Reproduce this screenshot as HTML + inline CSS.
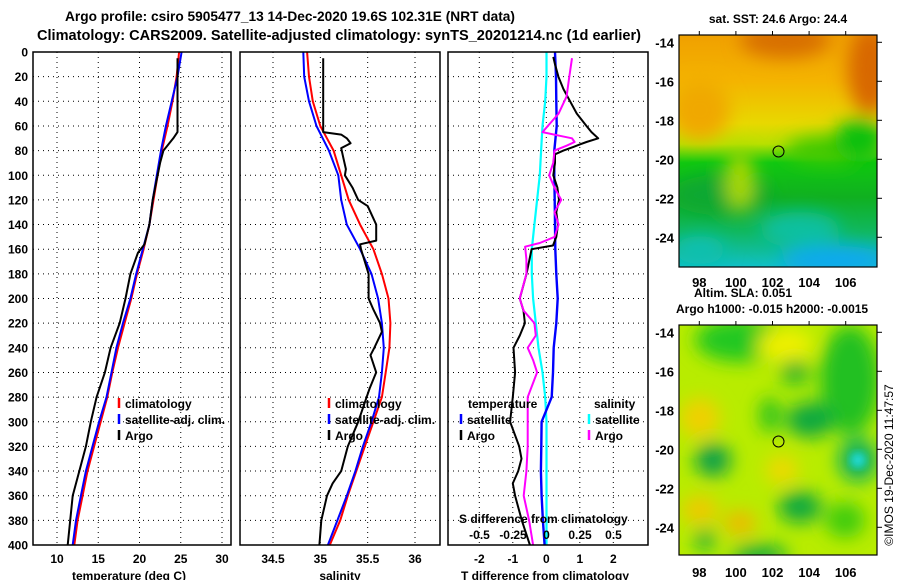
<!DOCTYPE html>
<html><head><meta charset="utf-8">
<style>
html,body{margin:0;padding:0;background:#fff;}
body{width:900px;height:580px;overflow:hidden;font-family:"Liberation Sans",sans-serif;}
svg text{font-family:"Liberation Sans",sans-serif;font-weight:bold;fill:#000;}
</style></head>
<body>
<svg id="fig" width="900" height="580" viewBox="0 0 900 580" xmlns="http://www.w3.org/2000/svg">
<defs>
<filter id="blur1" x="-20%" y="-20%" width="140%" height="140%"><feGaussianBlur stdDeviation="9"/></filter>
<filter id="blur2" x="-20%" y="-20%" width="140%" height="140%"><feGaussianBlur stdDeviation="4"/></filter>
<clipPath id="clipTop"><rect x="679" y="35" width="198" height="232"/></clipPath>
<clipPath id="clipBot"><rect x="679" y="325" width="198" height="230"/></clipPath>
<linearGradient id="sstGrad" x1="0" y1="0" x2="0" y2="1">
<stop offset="0" stop-color="#f0a000"/><stop offset="0.2" stop-color="#f4b400"/>
<stop offset="0.38" stop-color="#e8d800"/><stop offset="0.47" stop-color="#b8e000"/>
<stop offset="0.55" stop-color="#10c810"/><stop offset="0.7" stop-color="#10b020"/>
<stop offset="0.85" stop-color="#10b860"/><stop offset="1" stop-color="#10c0c8"/>
</linearGradient>
</defs>
<g id="titles">
<text x="65" y="21" font-size="14" textLength="450" lengthAdjust="spacingAndGlyphs">Argo profile: csiro 5905477_13 14-Dec-2020 19.6S 102.31E (NRT data)</text>
<text x="37" y="40" font-size="14.5" textLength="604" lengthAdjust="spacingAndGlyphs">Climatology: CARS2009. Satellite-adjusted climatology: synTS_20201214.nc (1d earlier)</text>
</g>
<g id="panels"></g>
<g id="maps">
<text x="778" y="23" font-size="12" text-anchor="middle">sat. SST: 24.6 Argo: 24.4</text>
<g clip-path="url(#clipTop)">
<rect x="679" y="35" width="198" height="232" fill="url(#sstGrad)"/>
<g filter="url(#blur1)">
<ellipse cx="785" cy="40" rx="45" ry="18" fill="#d87000"/>
<ellipse cx="870" cy="70" rx="22" ry="45" fill="#d86800"/>
<ellipse cx="700" cy="110" rx="30" ry="30" fill="#f0a800"/>
<ellipse cx="830" cy="150" rx="45" ry="14" fill="#40c800"/>
<ellipse cx="720" cy="195" rx="50" ry="20" fill="#10a830"/>
<ellipse cx="740" cy="180" rx="14" ry="30" fill="#a8d800"/>
<ellipse cx="800" cy="230" rx="40" ry="18" fill="#10c0a0"/>
<ellipse cx="835" cy="260" rx="55" ry="14" fill="#10a8f0"/>
<ellipse cx="700" cy="250" rx="25" ry="14" fill="#10c0b0"/>
<ellipse cx="860" cy="140" rx="25" ry="22" fill="#10c010"/>
</g>
</g>
<rect x="679" y="35" width="198" height="232" fill="none" stroke="#000" stroke-width="1.2"/>
<circle cx="778.5" cy="151.5" r="5.5" fill="none" stroke="#000" stroke-width="1"/>
<text x="694" y="297" font-size="12">Altim. SLA: 0.051</text>
<text x="676" y="313" font-size="12">Argo h1000: -0.015 h2000: -0.0015</text>
<g clip-path="url(#clipBot)">
<rect x="679" y="325" width="198" height="230" fill="#b8ec00"/>
<g filter="url(#blur1)">
<ellipse cx="740" cy="340" rx="45" ry="22" fill="#20c820"/>
<ellipse cx="785" cy="345" rx="28" ry="16" fill="#f0f000"/>
<ellipse cx="850" cy="380" rx="30" ry="55" fill="#20c020"/>
<ellipse cx="795" cy="372" rx="14" ry="12" fill="#10b030"/>
<ellipse cx="810" cy="420" rx="24" ry="18" fill="#10a840"/>
<ellipse cx="770" cy="415" rx="10" ry="18" fill="#20c020"/>
<ellipse cx="713" cy="460" rx="18" ry="17" fill="#10a048"/>
<ellipse cx="858" cy="460" rx="20" ry="22" fill="#10b060"/>
<ellipse cx="800" cy="507" rx="22" ry="16" fill="#10a840"/>
<ellipse cx="700" cy="418" rx="20" ry="20" fill="#f0d000"/>
<ellipse cx="782" cy="470" rx="16" ry="14" fill="#f0d800"/>
<ellipse cx="700" cy="510" rx="18" ry="14" fill="#f0c800"/>
<ellipse cx="740" cy="523" rx="16" ry="12" fill="#f0b800"/>
<ellipse cx="760" cy="555" rx="28" ry="10" fill="#10a840"/>
<ellipse cx="705" cy="540" rx="10" ry="10" fill="#10a840"/>
<ellipse cx="845" cy="520" rx="20" ry="18" fill="#40cc10"/>
</g>
<g filter="url(#blur2)"><ellipse cx="858" cy="460" rx="8" ry="8" fill="#20d8d0"/></g>
</g>
<rect x="679" y="325" width="198" height="230" fill="none" stroke="#000" stroke-width="1.2"/>
<circle cx="778.5" cy="441.5" r="5.5" fill="none" stroke="#000" stroke-width="1"/>
<g id="mapaxes"></g>
<text transform="translate(893,465) rotate(-90)" font-size="12" text-anchor="middle" style="font-weight:normal">©IMOS 19-Dec-2020 11:47:57</text>
</g>
</svg>
<script>
// ---- data ----
const depthGrid = [0,20,40,60,80,100,120,140,160,180,200,220,240,260,280,300,320,340,360,380,400];
const tempClim = [24.8,24.5,24.0,23.4,22.7,22.2,21.7,21.2,20.5,19.7,19.0,18.2,17.4,16.7,16.1,15.3,14.5,13.7,13.1,12.5,12.1];
const tempSat  = [25.1,24.6,23.9,23.2,22.6,22.1,21.6,21.2,20.4,19.6,18.9,18.0,17.2,16.6,16.0,15.1,14.3,13.5,12.9,12.3,11.9];
const argoTDepth = [5,30,65,70,75,80,90,100,120,140,156,163,180,200,220,240,260,280,300,320,340,360,380,400];
const argoTemp   = [24.6,24.6,24.6,24.1,23.5,22.9,22.5,22.2,21.6,21.2,20.6,19.8,18.9,18.3,17.6,16.5,15.8,14.8,14.1,13.5,12.7,11.9,11.6,11.3];
const salClim = [34.86,34.88,34.92,35.0,35.14,35.22,35.30,35.42,35.56,35.65,35.72,35.74,35.73,35.69,35.65,35.56,35.47,35.38,35.29,35.21,35.10];
const salSat  = [34.82,34.83,34.88,34.96,35.09,35.19,35.22,35.28,35.42,35.54,35.61,35.65,35.67,35.65,35.62,35.54,35.45,35.37,35.28,35.18,35.08];
const argoSDepth = [5,65,67,70,74,78,85,95,100,110,120,125,140,153,156,160,180,200,209,220,227,240,246,260,273,282,300,320,340,350,360,380,400];
const argoSal    = [35.03,35.03,35.22,35.28,35.32,35.22,35.24,35.27,35.26,35.34,35.40,35.50,35.59,35.59,35.42,35.43,35.51,35.51,35.56,35.63,35.65,35.57,35.53,35.59,35.52,35.48,35.40,35.29,35.22,35.13,35.07,35.01,34.99];
const satTDiff = [0.26,0.29,0.30,0.31,0.24,0.24,0.25,0.26,0.27,0.30,0.34,0.30,0.22,0.20,0.16,-0.14,-0.15,-0.16,-0.14,-0.10,-0.05];
const satSDiff = [0.0,0.0,-0.01,-0.03,-0.04,-0.05,-0.07,-0.09,-0.11,-0.11,-0.10,-0.08,-0.06,-0.03,-0.01,0.0,0.0,0.0,0.0,0.0,0.0];
const argoTDiffDepth = [4,10,20,30,40,50,60,65,70,73,75,77,80,83,90,100,110,120,130,140,150,157,160,180,200,210,220,230,240,260,280,300,320,330,340,350,360,380,400];
const argoTDiff = [0.21,0.26,0.36,0.51,0.71,0.91,1.2,1.35,1.55,1.2,1.0,0.81,0.51,0.26,0.26,0.21,0.33,0.38,0.30,0.35,0.30,0.2,-0.44,-0.59,-0.79,-0.68,-0.64,-0.79,-0.98,-0.93,-1.0,-1.08,-0.81,-0.74,-0.84,-1.0,-0.93,-0.73,-0.49];
const argoSDiffDepth = [5,20,36,50,60,65,68,70,73,76,80,90,100,110,120,130,140,150,155,158,168,180,200,210,220,230,240,250,260,280,300,320,340,360,380,400];
const argoSDiff = [0.19,0.17,0.15,0.09,0.01,-0.03,0.10,0.19,0.21,0.15,0.06,0.05,0.02,0.06,0.11,0.06,0.09,0.06,-0.05,-0.16,-0.15,-0.15,-0.20,-0.17,-0.09,-0.08,-0.14,-0.10,-0.07,-0.14,-0.14,-0.14,-0.15,-0.17,-0.13,-0.10];
const depthTicks = [0,20,40,60,80,100,120,140,160,180,200,220,240,260,280,300,320,340,360,380,400];
const tempTicks = [10,15,20,25,30];
const salTicks = [34.5,35,35.5,36];
const salTickLabels = ["34.5","35","35.5","36"];
const tdiffTicks = [-2,-1,0,1,2];
const sdiffTicks = [-0.5,-0.25,0,0.25,0.5];
const sdiffTickLabels = ["-0.5","-0.25","0","0.25","0.5"];
const latTicks = [-14,-16,-18,-20,-22,-24];
const lonTicks = [98,100,102,104,106];

// ---- scales ----
const NS = 'http://www.w3.org/2000/svg';
const TOP = 52, BOT = 545;
const yD = d => TOP + d * (BOT - TOP) / 400;
const xT = t => 57 + (t - 10) * 8.25;
const xS = s => 273 + (s - 34.5) * 94.67;
const xTd = v => 546.3 + v * 33.5;
const xSd = v => 546.5 + v * 134;
const mapX = lon => 699.3 + (lon - 98) * 18.3;
const latYTop = lat => 42.3 + (-14 - lat) * 19.5;
const latYBot = lat => 332.3 + (-14 - lat) * 19.5;

function mk(tag, attrs, parent) {
  const e = document.createElementNS(NS, tag);
  for (const k in attrs) e.setAttribute(k, attrs[k]);
  parent.appendChild(e);
  return e;
}
const panels = document.getElementById('panels');

function panel(name, x0, x1, xticks, xfn, xlabels, xtitle, xtitleX) {
  const g = mk('g', {}, panels);
  
  
  depthTicks.forEach(d => {
    if (d === 0 || d === 400) return;
    const l = mk('line', {x1: x0, x2: x1, y1: yD(d), y2: yD(d), stroke: '#000', 'stroke-width': 1, 'stroke-dasharray': '1,4'}, g);
    
    
  });
  xticks.forEach((v, i) => {
    const x = xfn(v);
    const l = mk('line', {x1: x, x2: x, y1: TOP, y2: BOT, stroke: '#000', 'stroke-width': 1, 'stroke-dasharray': '1,4'}, g);
    
    
    const t = mk('text', {x: x, y: 563, 'font-size': 12, 'text-anchor': 'middle'}, g);
    t.textContent = xlabels[i];
    
    
  });
  const tt = mk('text', {x: xtitleX, y: 580, 'font-size': 12, 'text-anchor': 'middle'}, g);
  tt.textContent = xtitle;
  
  
  const clip = mk('clipPath', {id: 'clip-' + name}, g);
  mk('rect', {x: x0, y: TOP, width: x1 - x0, height: BOT - TOP}, clip);
  const lines = mk('g', {'clip-path': 'url(#clip-' + name + ')'}, g);
  
  
  const fr = mk('rect', {x: x0, y: TOP, width: x1 - x0, height: BOT - TOP, fill: 'none', stroke: '#000', 'stroke-width': 1.5}, g);
  
  
  return {g, lines};
}
function series(parent, depths, vals, xfn, color, w, name) {
  const d = depths.map((dd, i) => (i ? 'L' : 'M') + xfn(vals[i]).toFixed(1) + ',' + yD(dd).toFixed(1)).join(' ');
  const p = mk('path', {d: d, fill: 'none', stroke: color, 'stroke-width': w, 'stroke-linejoin': 'round'}, parent);
  
  
}
function legendEntry(parent, x, y, color, label, name) {
  const l = mk('line', {x1: x, x2: x, y1: y - 10, y2: y, stroke: color, 'stroke-width': 2.5}, parent);
  
  
  const t = mk('text', {x: x + 6, y: y, 'font-size': 12}, parent);
  t.textContent = label;
  
  
}

const ya = mk('g', {}, panels);


depthTicks.forEach(d => {
  const t = mk('text', {x: 28, y: yD(d) + 4.5, 'font-size': 12, 'text-anchor': 'end'}, ya);
  t.textContent = String(d);
  
  
});

const p1 = panel('temperature', 33, 231, tempTicks, xT, tempTicks.map(String), 'temperature (deg C)', 129);
series(p1.lines, depthGrid, tempClim, xT, '#ff0000', 2, 'temperature-climatology-line');
series(p1.lines, depthGrid, tempSat, xT, '#0000ff', 2, 'temperature-satellite-adj-line');
series(p1.lines, argoTDepth, argoTemp, xT, '#000', 2, 'temperature-argo-line');
legendEntry(p1.g, 119, 408, '#ff0000', 'climatology', 'legend-climatology');
legendEntry(p1.g, 119, 424, '#0000ff', 'satellite-adj. clim.', 'legend-satellite-adj');
legendEntry(p1.g, 119, 440, '#000', 'Argo', 'legend-argo');

const p2 = panel('salinity', 240, 440, salTicks, xS, salTickLabels, 'salinity', 340);
series(p2.lines, depthGrid, salClim, xS, '#ff0000', 2, 'salinity-climatology-line');
series(p2.lines, depthGrid, salSat, xS, '#0000ff', 2, 'salinity-satellite-adj-line');
series(p2.lines, argoSDepth, argoSal, xS, '#000', 2, 'salinity-argo-line');
legendEntry(p2.g, 329, 408, '#ff0000', 'climatology', 'legend-climatology');
legendEntry(p2.g, 329, 424, '#0000ff', 'satellite-adj. clim.', 'legend-satellite-adj');
legendEntry(p2.g, 329, 440, '#000', 'Argo', 'legend-argo');

const p3 = panel('difference', 448, 648, tdiffTicks, xTd, tdiffTicks.map(String), 'T difference from climatology', 545);
series(p3.lines, depthGrid, satSDiff, xSd, '#00ffff', 2.2, 'salinity-diff-satellite-line');
series(p3.lines, depthGrid, satTDiff, xTd, '#0000ff', 2.4, 'temperature-diff-satellite-line');
series(p3.lines, argoTDiffDepth, argoTDiff, xTd, '#000', 2, 'temperature-diff-argo-line');
series(p3.lines, argoSDiffDepth, argoSDiff, xSd, '#ff00ff', 2, 'salinity-diff-argo-line');
const th = mk('text', {x: 468, y: 408, 'font-size': 12}, p3.g); th.textContent = 'temperature';


const sh = mk('text', {x: 594, y: 408, 'font-size': 12}, p3.g); sh.textContent = 'salinity';


legendEntry(p3.g, 461, 424, '#0000ff', 'satellite', 'legend-temperature-satellite');
legendEntry(p3.g, 461, 440, '#000', 'Argo', 'legend-temperature-argo');
legendEntry(p3.g, 589, 424, '#00ffff', 'satellite', 'legend-salinity-satellite');
legendEntry(p3.g, 589, 440, '#ff00ff', 'Argo', 'legend-salinity-argo');
const sdt = mk('text', {x: 459, y: 523, 'font-size': 12}, p3.g); sdt.textContent = 'S difference from climatology';


sdiffTicks.forEach((v, i) => {
  const t = mk('text', {x: xSd(v), y: 539, 'font-size': 12, 'text-anchor': 'middle'}, p3.g);
  t.textContent = sdiffTickLabels[i];
  
  
});

const ma = document.getElementById('mapaxes');


[[latYTop, 35, 267, 287], [latYBot, 325, 555, 577]].forEach(([fy, top, bot, ly]) => {
  latTicks.forEach(lat => {
    const y = fy(lat);
    const t = mk('text', {x: 674, y: y + 5, 'font-size': 13, 'text-anchor': 'end'}, ma);
    t.textContent = String(lat);
    
    
    mk('line', {x1: 877, x2: 882, y1: y, y2: y, stroke: '#000'}, ma);
  });
  lonTicks.forEach(lon => {
    const x = mapX(lon);
    const t = mk('text', {x: x, y: ly, 'font-size': 13, 'text-anchor': 'middle'}, ma);
    t.textContent = String(lon);
    
    
    mk('line', {x1: x, x2: x, y1: top - 4, y2: top, stroke: '#000'}, ma);
  });
});
</script>
</body></html>
